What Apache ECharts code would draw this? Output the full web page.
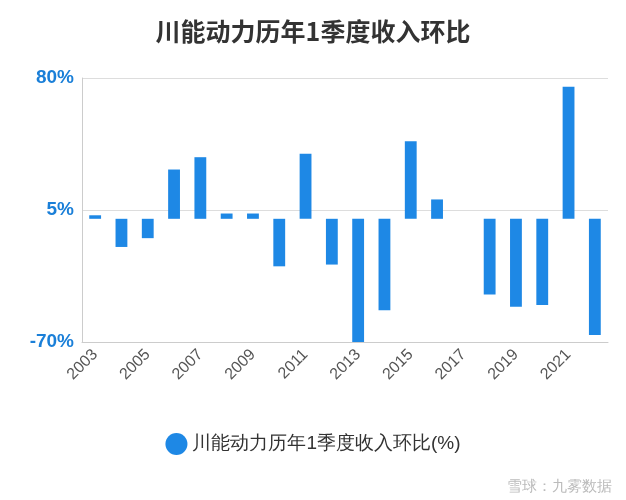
<!DOCTYPE html>
<html lang="zh">
<head>
<meta charset="UTF-8">
<title>川能动力</title>
<script src="https://cdn.jsdelivr.net/npm/echarts@6/dist/echarts.min.js"></script>
<style>html,body{margin:0;padding:0;background:#fff}</style>
</head>
<body>
<div id="chart" style="width:626px;height:500px"></div>
<script>
var years = ['2003','2004','2005','2006','2007','2008','2009','2010','2011','2012',
             '2013','2014','2015','2016','2017','2018','2019','2020','2021','2022'];
var values = [2, -16, -11, 28, 35, 3, 3, -27, 37, -26,
              -70, -52, 44, 11, 0, -43, -50, -49, 75, -66];
var seriesName = '川能动力历年1季度收入环比(%)';

var chart = echarts.init(document.getElementById('chart'));
chart.setOption({
    animation: false,
    title: {
        text: '川能动力历年1季度收入环比',
        left: 'center', top: 14,
        textStyle: {fontSize: 25, fontWeight: 'bold', color: '#333', fontFamily: 'Noto Sans CJK SC'}
    },
    grid: {left: 82, right: 18, top: 78, bottom: 158},
    xAxis: {
        type: 'category', data: years,
        axisLine: {onZero: false, lineStyle: {color: '#ccc'}},
        axisTick: {show: false},
        axisLabel: {interval: 1, rotate: 45, color: '#555', fontSize: 16, margin: 10}
    },
    yAxis: {
        type: 'value', min: -70, max: 80, interval: 75,
        axisLine: {show: true, lineStyle: {color: '#ccc'}},
        axisLabel: {formatter: '{value}%', color: '#1a7fd8', fontSize: 19, fontWeight: 'bold'},
        splitLine: {lineStyle: {color: '#ddd'}}
    },
    legend: {
        bottom: 40, left: 'center', icon: 'circle', itemWidth: 22, itemHeight: 22,
        textStyle: {fontSize: 19, color: '#333'}
    },
    series: [{
        name: seriesName, type: 'bar', data: values, barWidth: '45%',
        itemStyle: {color: '#1e88e5'}
    }],
    graphic: [{
        type: 'text', right: 14, bottom: 6,
        style: {text: '雪球：九雾数据', fontSize: 15, fill: '#bbb'}
    }]
});
</script>
</body>
</html>
